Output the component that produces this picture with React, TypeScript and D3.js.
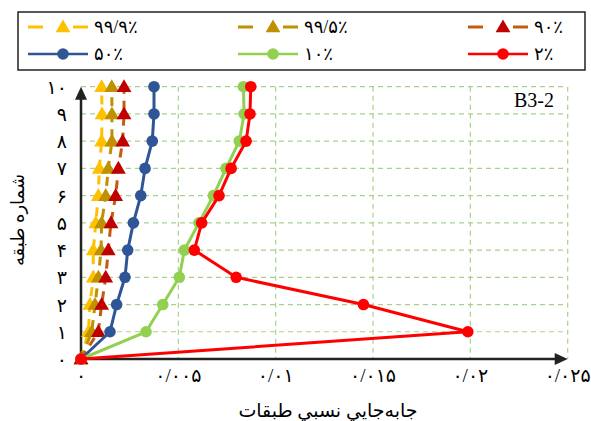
import React from "react";
import * as d3 from "d3";

// story levels (y) and relative story drift (x) per exceedance level
const storyLevels = [0, 1, 2, 3, 4, 5, 6, 7, 8, 9, 10];
const drift999 = [0, 0.00038, 0.00046, 0.00063, 0.00063, 0.00076, 0.00089, 0.00094, 0.00106, 0.00108, 0.00106];
const drift995 = [0, 0.00055, 0.00072, 0.00089, 0.00103, 0.00106, 0.00127, 0.0014, 0.00159, 0.00159, 0.00158];
const drift90 = [0, 0.00089, 0.00106, 0.00127, 0.0014, 0.00154, 0.00178, 0.00192, 0.00214, 0.00221, 0.00221];
const drift50 = [0, 0.00149, 0.00183, 0.00226, 0.0024, 0.00269, 0.00307, 0.00329, 0.00366, 0.00375, 0.00375];
const drift10 = [0, 0.00334, 0.0042, 0.00505, 0.00531, 0.00606, 0.0068, 0.00745, 0.00813, 0.00838, 0.00834];
const drift2 = [0, 0.01987, 0.01451, 0.00797, 0.00582, 0.0062, 0.00709, 0.00771, 0.00848, 0.00868, 0.00872];

const seriesNames = ["۹۹/۹٪", "۹۹/۵٪", "۹۰٪", "۵۰٪", "۱۰٪", "۲٪"];

const xTicks = [0, 0.005, 0.01, 0.015, 0.02, 0.025];
const xTickLabels = ["۰", "۰/۰۰۵", "۰/۰۱", "۰/۰۱۵", "۰/۰۲", "۰/۰۲۵"];
const yTickLabels = ["۰", "۱", "۲", "۳", "۴", "۵", "۶", "۷", "۸", "۹", "۱۰"];

const xTitle = "جابه‌جايي نسبي طبقات";
const yTitle = "شماره طبقه";
const tag = "B3-2";

const W = 591, H = 421;
const left = 81, right = 567.7, top = 86.7, bottom = 359;
const FONT = "'Liberation Serif', 'DejaVu Sans', serif";

const series = [
  { name: seriesNames[0], values: drift999, line: "#FFC000", fill: "#FFC000", shape: "tri", dash: true },
  { name: seriesNames[1], values: drift995, line: "#BF9000", fill: "#BF9000", shape: "tri", dash: true },
  { name: seriesNames[2], values: drift90, line: "#C55A11", fill: "#C00000", shape: "tri", dash: true },
  { name: seriesNames[3], values: drift50, line: "#2F5597", fill: "#2F5597", shape: "circle", dash: false },
  { name: seriesNames[4], values: drift10, line: "#92D050", fill: "#92D050", shape: "circle", dash: false },
  { name: seriesNames[5], values: drift2, line: "#FF0000", fill: "#FF0000", shape: "circle", dash: false },
];

const x = d3.scaleLinear().domain([0, 0.025]).range([left, right]);
const y = d3.scaleLinear().domain([0, 10]).range([bottom, top]);

const triPath = d3.symbol(d3.symbolTriangle, 95)();

function Marker({ shape, cx, cy, fill }: { shape: string; cx: number; cy: number; fill: string }) {
  if (shape === "tri") {
    return <path d={triPath || ""} transform={`translate(${cx},${cy + 1})`} fill={fill} />;
  }
  return <circle cx={cx} cy={cy} r={5.8} fill={fill} />;
}

export default function App() {
  const legendCols = [28, 238, 468];
  const legendRows = [27, 54];

  return (
    <svg width={W} height={H} style={{ position: "absolute", left: 0, top: 0, background: "#fff" }} fontFamily={FONT}>
      {/* grid */}
      {storyLevels.slice(1).map((s) => (
        <line key={"h" + s} x1={left} x2={right - 4} y1={y(s)} y2={y(s)} stroke="#A9D18E" strokeWidth={1.2} strokeDasharray="5,4" />
      ))}
      {xTicks.slice(1).map((t) => (
        <line key={"v" + t} x1={x(t)} x2={x(t)} y1={top} y2={bottom} stroke="#A9D18E" strokeWidth={1.2} strokeDasharray="5,4" />
      ))}

      {/* axes with arrows */}
      <line x1={left} x2={right - 8} y1={bottom} y2={bottom} stroke="#222" strokeWidth={2.5} />
      <path d={`M${right},${bottom} L${right - 13},${bottom - 6} L${right - 13},${bottom + 6} Z`} fill="#222" />
      <line x1={left} x2={left} y1={bottom} y2={top + 8} stroke="#222" strokeWidth={2.5} />
      <path d={`M${left},${top} L${left - 6},${top + 13} L${left + 6},${top + 13} Z`} fill="#222" />

      {/* tick labels */}
      {xTicks.map((t, i) => (
        <text key={"xt" + i} x={x(t)} y={382} fontSize={19} textAnchor="middle" fill="#000">{xTickLabels[i]}</text>
      ))}
      {storyLevels.map((s, i) => (
        <text key={"yt" + i} x={67} y={y(s) + 7} fontSize={19} textAnchor="end" fill="#000">{yTickLabels[i]}</text>
      ))}

      <text x={328} y={417} fontSize={19} textAnchor="middle" fill="#000">{xTitle}</text>
      <text transform={`translate(24,220) rotate(-90)`} fontSize={18} textAnchor="middle" fill="#000">{yTitle}</text>
      <text x={554} y={107} fontSize={20} textAnchor="end" fill="#000" fontFamily="'Liberation Serif', serif">{tag}</text>

      {/* series */}
      {series.map((s) => {
        const pts = s.values.map((v, i) => [x(v), y(storyLevels[i])] as [number, number]);
        const path = d3.line()(pts) || "";
        return (
          <g key={s.name}>
            <path d={path} fill="none" stroke={s.line} strokeWidth={3} strokeDasharray={s.dash ? "9,7" : undefined} strokeLinejoin="round" />
            {pts.map((p, i) => (
              <Marker key={i} shape={s.shape} cx={p[0]} cy={p[1]} fill={s.fill} />
            ))}
          </g>
        );
      })}

      {/* legend */}
      <rect x={18} y={12} width={567} height={58} fill="#fff" stroke="#222" strokeWidth={1.5} />
      {series.map((s, i) => {
        const lx = legendCols[i % 3];
        const ly = legendRows[Math.floor(i / 3)];
        return (
          <g key={"lg" + i}>
            {s.dash ? (
              <>
                <line x1={lx} x2={lx + 15} y1={ly} y2={ly} stroke={s.line} strokeWidth={3} />
                <line x1={lx + 45} x2={lx + 60} y1={ly} y2={ly} stroke={s.line} strokeWidth={3} />
              </>
            ) : (
              <line x1={lx} x2={lx + 60} y1={ly} y2={ly} stroke={s.line} strokeWidth={2.5} />
            )}
            <Marker shape={s.shape} cx={lx + 35} cy={ly} fill={s.fill} />
            <text x={lx + 66} y={ly + 6} fontSize={18} fill="#000">{s.name}</text>
          </g>
        );
      })}
    </svg>
  );
}
